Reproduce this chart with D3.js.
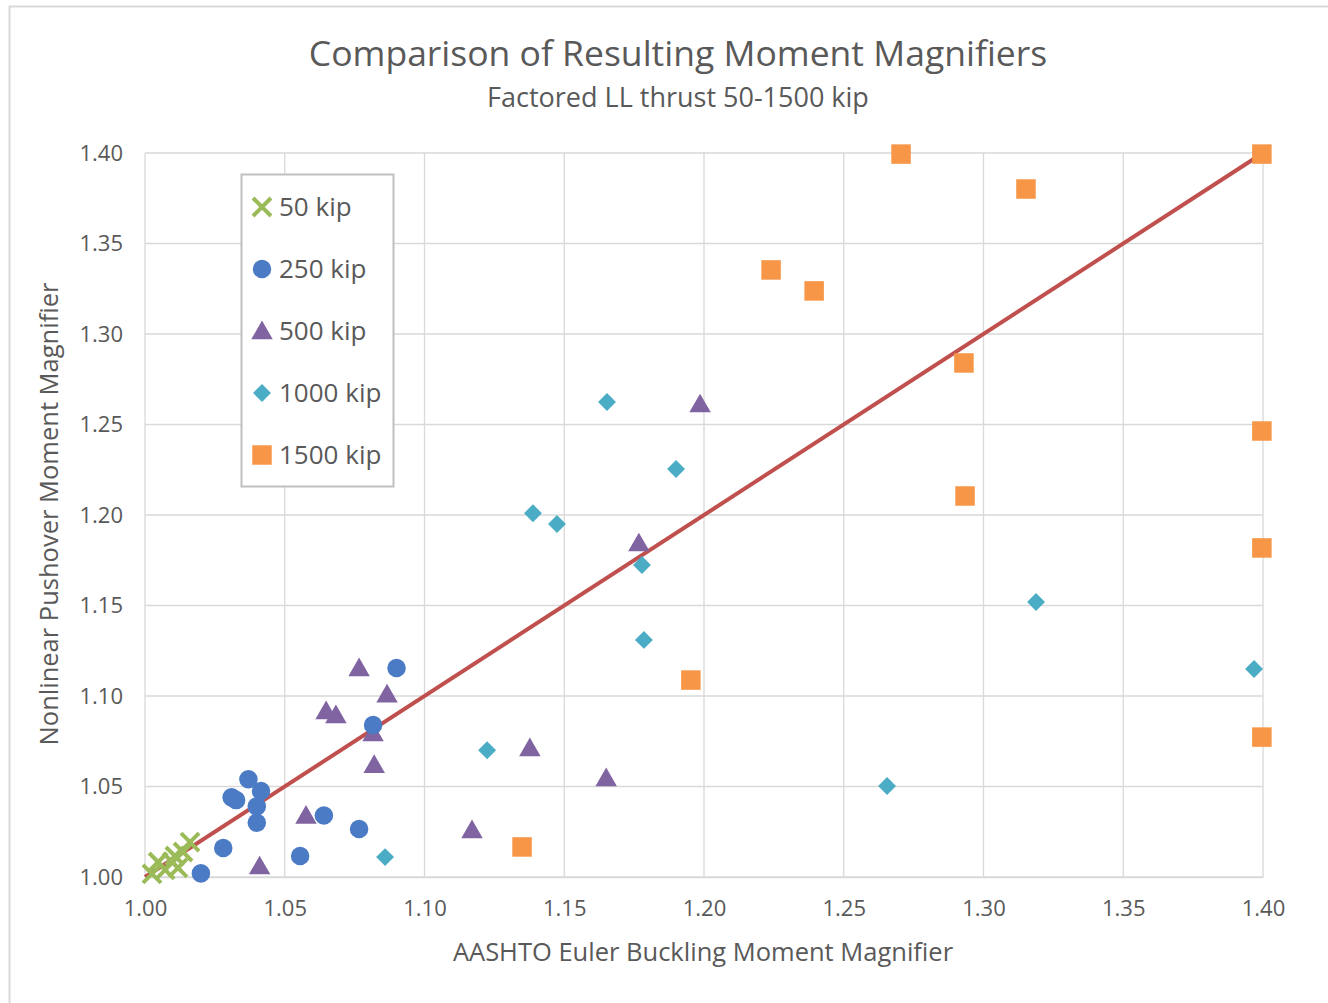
<!DOCTYPE html>
<html>
<head>
<meta charset="utf-8">
<script src="https://cdn.jsdelivr.net/npm/d3@7"></script>
<style>
  body { margin: 0; background: #fff; }
  text { font-family: "Open Sans", "Noto Sans", sans-serif; fill: #595959; }
</style>
</head>
<body>
<svg id="chart" width="1328" height="1003"></svg>
<script>
// data: [AASHTO, Nonlinear]
var kip50 = [[1.0025,1.0017],[1.0047,1.0083],[1.0072,1.0039],[1.0097,1.0083],[1.0107,1.0116],
             [1.0118,1.005],[1.0136,1.0138],[1.0161,1.0193]];
var kip250 = [[1.020,1.002],[1.028,1.016],[1.037,1.054],[1.031,1.044],[1.0326,1.0425],[1.0415,1.0475],
              [1.040,1.039],[1.040,1.030],[1.0555,1.0116],[1.064,1.034],[1.0766,1.0265],[1.0816,1.084],[1.090,1.1155]];
var kip500 = [[1.041,1.006],[1.0576,1.034],[1.0648,1.0917],[1.0683,1.0895],[1.0766,1.1155],[1.0866,1.101],
              [1.0816,1.0796],[1.082,1.062],[1.117,1.026],[1.1377,1.0713],[1.165,1.0547],[1.1767,1.1845],[1.1986,1.2613]];
var kip1000 = [[1.0859,1.011],[1.1224,1.070],[1.1388,1.201],[1.1474,1.195],[1.1653,1.2624],[1.1778,1.1724],
               [1.1785,1.131],[1.190,1.2254],[1.2655,1.0503],[1.3188,1.1519],[1.3968,1.1149]];
var kip1500 = [[1.1349,1.0166],[1.1953,1.1088],[1.224,1.3354],[1.2394,1.3238],[1.2705,1.3994],[1.293,1.284],
               [1.2934,1.2105],[1.3152,1.3801],[1.3996,1.3994],[1.3996,1.2464],[1.3996,1.1818],[1.3996,1.0773]];
var seriesNames = ["50 kip", "250 kip", "500 kip", "1000 kip", "1500 kip"];
var xTicks = [1.00,1.05,1.10,1.15,1.20,1.25,1.30,1.35,1.40];
var yTicks = [1.00,1.05,1.10,1.15,1.20,1.25,1.30,1.35,1.40];
var refLine = [[1.0,1.0],[1.4,1.4]];

var series = [
  {name: seriesNames[0], data: kip50,   shape: "x",        color: "#9BBB59", size: 300},
  {name: seriesNames[1], data: kip250,  shape: "circle",   color: "#4A7BC4", size: 270},
  {name: seriesNames[2], data: kip500,  shape: "triangle", color: "#8064A2", size: 200},
  {name: seriesNames[3], data: kip1000, shape: "diamond",  color: "#4BACC6", size: 160},
  {name: seriesNames[4], data: kip1500, shape: "square",   color: "#F79646", size: 380}
];

var svg = d3.select("#chart");
var x = d3.scaleLinear().domain([1.0, 1.4]).range([145, 1263]);
var y = d3.scaleLinear().domain([1.0, 1.4]).range([877, 153]);

// outer chart border
svg.append("rect").attr("x", 9.5).attr("y", 6.5).attr("width", 1400).attr("height", 1100)
  .attr("fill", "none").attr("stroke", "#d9d9d9").attr("stroke-width", 2);

// gridlines
svg.append("g").selectAll("line").data(xTicks).enter().append("line")
  .attr("x1", function (d) { return x(d); }).attr("x2", function (d) { return x(d); })
  .attr("y1", y(1.4)).attr("y2", y(1.0))
  .attr("stroke", "#d9d9d9").attr("stroke-width", 1.3);
svg.append("g").selectAll("line").data(yTicks).enter().append("line")
  .attr("x1", x(1.0)).attr("x2", x(1.4))
  .attr("y1", function (d) { return y(d); }).attr("y2", function (d) { return y(d); })
  .attr("stroke", "#d9d9d9").attr("stroke-width", 1.3);

// axes (labels only)
var xAxis = svg.append("g").attr("transform", "translate(0," + y(1.0) + ")")
  .call(d3.axisBottom(x).tickValues(xTicks).tickFormat(d3.format(".2f")).tickSize(0).tickPadding(23));
xAxis.select(".domain").attr("stroke", "#d9d9d9").attr("stroke-width", 1.5);
xAxis.selectAll("text").style("font-size", "22px").attr("fill", "#595959");

var yAxis = svg.append("g").attr("transform", "translate(" + x(1.0) + ",0)")
  .call(d3.axisLeft(y).tickValues(yTicks).tickFormat(d3.format(".2f")).tickSize(0).tickPadding(22));
yAxis.select(".domain").remove();
yAxis.selectAll("text").style("font-size", "22px").attr("fill", "#595959");

// 1:1 line
svg.append("path").datum(refLine)
  .attr("d", d3.line().x(function (d) { return x(d[0]); }).y(function (d) { return y(d[1]); }))
  .attr("stroke", "#C0504D").attr("stroke-width", 4).attr("fill", "none");

function symbolFor(s) {
  var t = {circle: d3.symbolCircle, triangle: d3.symbolTriangle,
           diamond: d3.symbolSquare, square: d3.symbolSquare}[s.shape];
  return d3.symbol().type(t).size(s.size)();
}

function drawMarker(g, s) {
  if (s.shape === "x") {
    g.append("path").attr("d", "M-9,-9L9,9M-9,9L9,-9")
      .attr("stroke", s.color).attr("stroke-width", 4).attr("fill", "none");
  } else {
    var tr = null;
    if (s.shape === "triangle") tr = "translate(0,2)";
    if (s.shape === "diamond") tr = "rotate(45)";
    g.append("path").attr("d", symbolFor(s)).attr("fill", s.color).attr("transform", tr);
  }
}

// points, drawn back to front so 50 kip is on top
series.slice().reverse().forEach(function (s) {
  svg.append("g").selectAll("g").data(s.data).enter().append("g")
    .attr("transform", function (d) { return "translate(" + x(d[0]) + "," + y(d[1]) + ")"; })
    .each(function () { drawMarker(d3.select(this), s); });
});

// legend
var legend = svg.append("g");
legend.append("rect").attr("x", 241.5).attr("y", 174.5).attr("width", 152).attr("height", 312)
  .attr("fill", "#fff").attr("stroke", "#bfbfbf").attr("stroke-width", 2);
series.forEach(function (s, i) {
  var row = legend.append("g").attr("transform", "translate(262," + (207 + i * 62) + ")");
  drawMarker(row, s);
  row.append("text").attr("x", 17).attr("y", 9).style("font-size", "26px").text(s.name);
});

// titles
svg.append("text").attr("x", 678).attr("y", 66).attr("text-anchor", "middle")
  .style("font-size", "35.5px").text("Comparison of Resulting Moment Magnifiers");
svg.append("text").attr("x", 678).attr("y", 107).attr("text-anchor", "middle")
  .style("font-size", "27px").text("Factored LL thrust 50-1500 kip");
svg.append("text").attr("x", 703).attr("y", 961).attr("text-anchor", "middle")
  .style("font-size", "25.5px").text("AASHTO Euler Buckling Moment Magnifier");
svg.append("text").attr("transform", "translate(58,514) rotate(-90)").attr("text-anchor", "middle")
  .style("font-size", "25.5px").text("Nonlinear Pushover Moment Magnifier");
</script>
</body>
</html>
